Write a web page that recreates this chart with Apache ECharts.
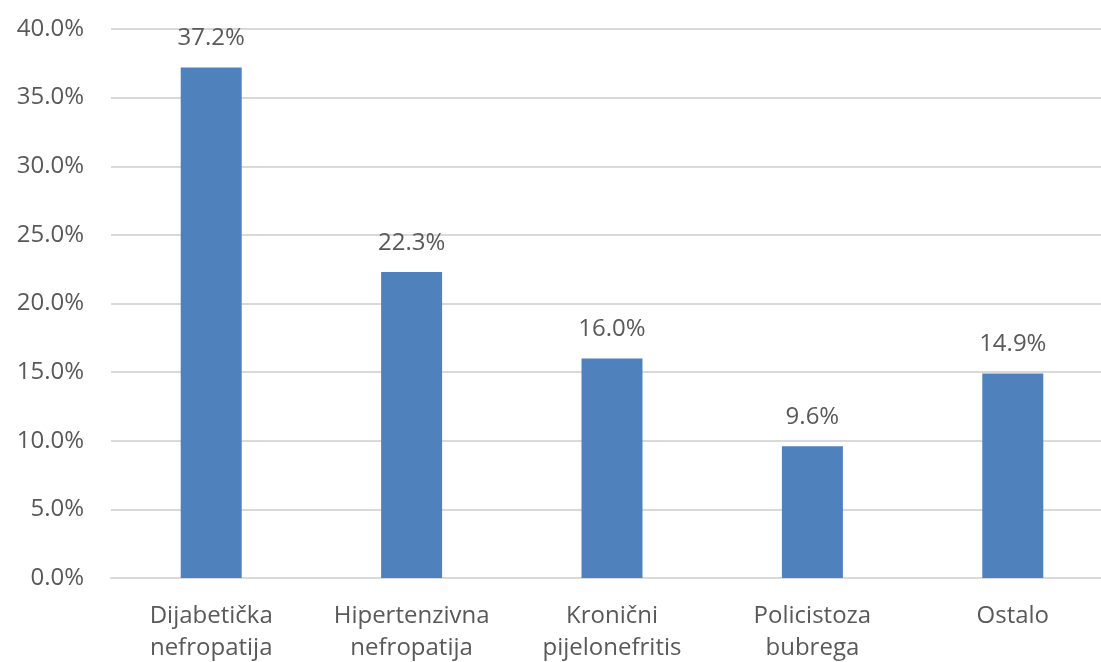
<!DOCTYPE html>
<html>
<head>
<meta charset="utf-8">
<script src="https://cdn.jsdelivr.net/npm/echarts@6/dist/echarts.min.js"></script>
<style>
html,body{margin:0;padding:0;background:#fff;}
#chart{width:1101px;height:662px;}
</style>
</head>
<body>
<div id="chart"></div>
<script>
const categories = ['Dijabetička\nnefropatija', 'Hipertenzivna\nnefropatija', 'Kronični\npijelonefritis', 'Policistoza\nbubrega', 'Ostalo'];
const values = [37.2, 22.3, 16.0, 9.6, 14.9];
const yTicks = [0, 5, 10, 15, 20, 25, 30, 35, 40];

const FONT = 'Open Sans';
const FS = 24;
const chart = echarts.init(document.getElementById('chart'), null, {renderer: 'canvas'});
chart.setOption({
  animation: false,
  backgroundColor: '#ffffff',
  grid: {left: 111, right: -12, top: 29, bottom: 84, outerBoundsMode: 'none'},
  xAxis: {
    type: 'category',
    data: categories,
    axisLine: {show: true, lineStyle: {color: '#d9d9d9', width: 2}},
    axisTick: {show: false},
    axisLabel: {color: '#595959', fontFamily: FONT, fontSize: FS, lineHeight: 32, margin: 22, interval: 0}
  },
  yAxis: {
    type: 'value',
    min: yTicks[0],
    max: yTicks[yTicks.length - 1],
    interval: 5,
    axisLine: {show: false},
    axisTick: {show: false},
    splitLine: {lineStyle: {color: '#d9d9d9', width: 2}},
    axisLabel: {color: '#595959', fontFamily: FONT, fontSize: FS, margin: 27,
      formatter: v => v.toFixed(1) + '%'}
  },
  series: [{
    type: 'bar',
    data: values,
    barWidth: 61,
    itemStyle: {color: '#4f81bd'},
    label: {show: true, position: 'top', distance: 17, color: '#595959', fontFamily: FONT, fontSize: FS,
      formatter: p => p.value.toFixed(1) + '%'}
  }]
});
</script>
</body>
</html>
